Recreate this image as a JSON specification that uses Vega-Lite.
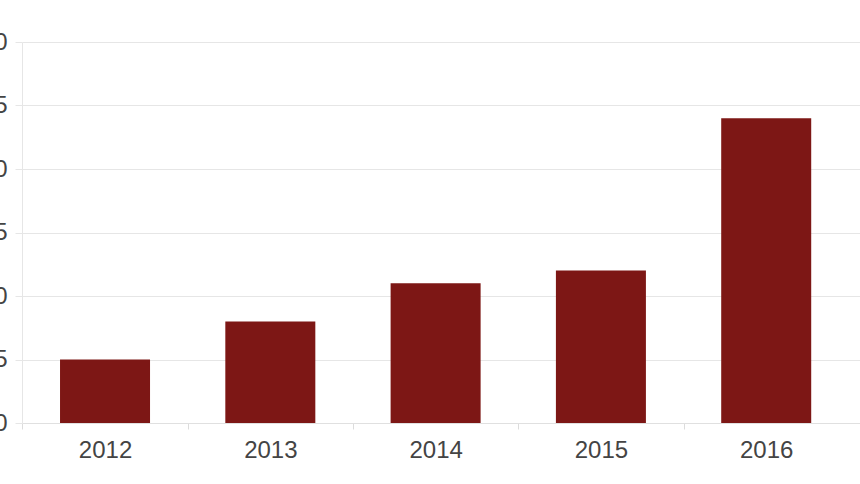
{
  "$schema": "https://vega.github.io/schema/vega-lite/v6.json",
  "autosize": "none",
  "padding": {"left": 22, "top": 42, "right": 0, "bottom": 61},
  "width": 838,
  "height": 381,
  "background": "white",
  "data": {"values": [
    {"year": "2012", "value": 5},
    {"year": "2013", "value": 8},
    {"year": "2014", "value": 11},
    {"year": "2015", "value": 12},
    {"year": "2016", "value": 24}
  ]},
  "config": {
    "view": {"stroke": null},
    "font": "Liberation Sans"
  },
  "mark": {"type": "bar", "color": "#7d1715"},
  "encoding": {
    "x": {
      "field": "year", "type": "ordinal", "sort": null,
      "scale": {"paddingInner": 0.4555, "paddingOuter": 0.2626, "align": 0.438},
      "axis": {
        "title": null, "labelAngle": 0, "labelFontSize": 24, "labelColor": "#444444",
        "labelFont": "Liberation Sans",
        "domainColor": "#e0e0e0", "tickColor": "#dcdcdc", "tickSize": 6, "tickBand": "center",
        "tickOffset": -82.65, "labelOffset": 82.65,
        "labelPadding": 9, "grid": false
      }
    },
    "y": {
      "field": "value", "type": "quantitative",
      "scale": {"domain": [0, 30], "nice": false},
      "axis": {
        "title": null, "values": [0, 5, 10, 15, 20, 25, 30], "labelFontSize": 24, "labelColor": "#444444",
        "labelFont": "Liberation Sans",
        "domainColor": "#e6e6e6", "tickColor": "#e6e6e6", "tickSize": 7, "labelPadding": 8,
        "gridColor": "#e6e6e6", "grid": true
      }
    }
  }
}
